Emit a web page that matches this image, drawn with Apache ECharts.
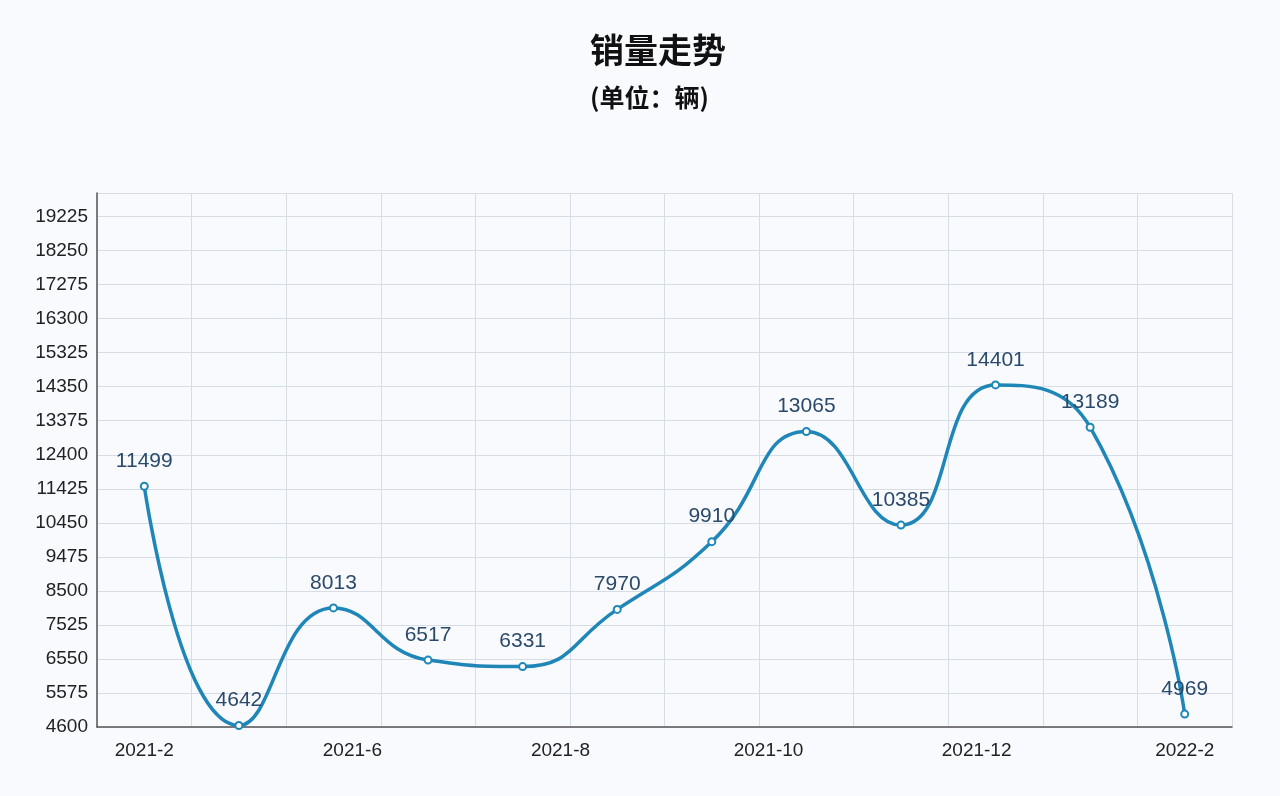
<!DOCTYPE html>
<html><head><meta charset="utf-8">
<script src="https://cdn.jsdelivr.net/npm/echarts@6/dist/echarts.min.js"></script>
<style>html,body{margin:0;background:#f8fafd}#c{width:1280px;height:796px}</style>
</head><body><div id="c"></div>
<script>
const values = [11499, 4642, 8013, 6517, 6331, 7970, 9910, 13065, 10385, 14401, 13189, 4969];
const tickLabels = ['2021-2', '2021-6', '2021-8', '2021-10', '2021-12', '2022-2'];
const labelPos = [0, 2.2, 4.4, 6.6, 8.8, 11];
const data = values.map((v, i) => [i, v]);
const chart = echarts.init(document.getElementById('c'));
chart.setOption({
  backgroundColor: '#f8fafd',
  title: {
    text: '销量走势', subtext: '(单位：辆)', left: 585, top: 28,
    textStyle: { fontSize: 34, fontWeight: 'bold', color: '#111', fontFamily: 'Noto Sans CJK SC' },
    subtextStyle: { fontSize: 25, fontWeight: 'bold', color: '#111', fontFamily: 'Noto Sans CJK SC' },
    itemGap: 18
  },
  grid: { left: 97, right: 48, top: 193, bottom: 69 },
  xAxis: {
    type: 'value', min: -0.5, max: 11.5, interval: 1,
    axisLine: { onZero: false, lineStyle: { color: '#555', width: 1.5 } },
    axisTick: { show: false },
    splitLine: { show: true, lineStyle: { color: '#d6dde6' } },
    axisLabel: {
      customValues: labelPos, fontSize: 19, color: '#222', margin: 14,
      formatter: v => tickLabels[labelPos.findIndex(p => Math.abs(p - v) < 0.01)] || ''
    }
  },
  yAxis: {
    type: 'value', min: 4600, max: 19900, interval: 975,
    axisLine: { show: true, onZero: false, lineStyle: { color: '#555', width: 1.5 } },
    axisTick: { show: false },
    splitLine: { lineStyle: { color: '#d6dde6' } },
    axisLabel: { fontSize: 19, color: '#222', showMaxLabel: false, margin: 9, formatter: v => String(v) }
  },
  series: [{
    type: 'line', data: data, smooth: 0.5,
    lineStyle: { color: '#1f86b8', width: 3.5 },
    itemStyle: { color: '#1f86b8', borderWidth: 2 },
    symbol: 'emptyCircle', symbolSize: 7,
    label: { show: true, position: 'top', fontSize: 21, color: '#2b4a6b', distance: 10 }
  }]
});
</script></body></html>
